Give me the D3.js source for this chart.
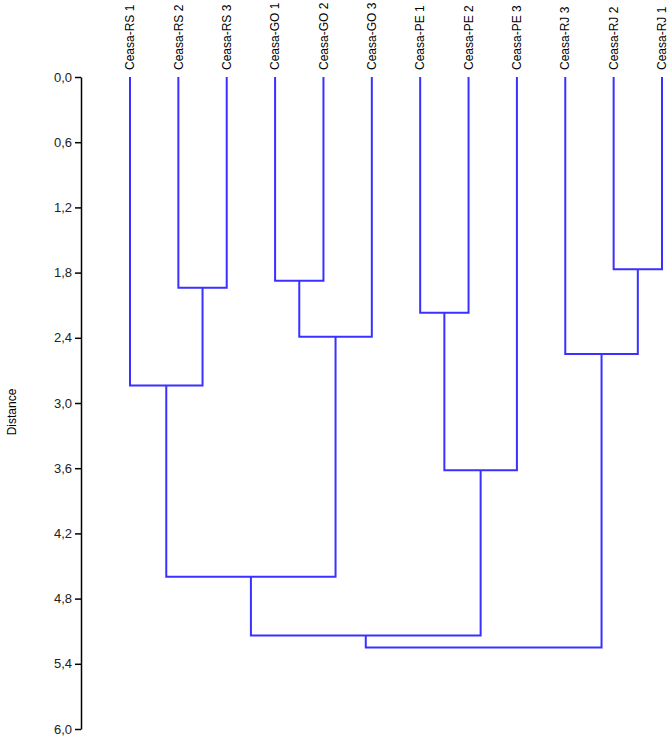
<!DOCTYPE html>
<html>
<head>
<meta charset="utf-8">
<title>Dendrogram</title>
<script src="https://d3js.org/d3.v7.min.js"></script>
<style>
  body { margin: 0; background: #fff; }
  text { font-family: "Liberation Sans", Arial, sans-serif; }
</style>
</head>
<body>
<script>
var width = 672, height = 741;

// leaf order as drawn, left to right
var leaves = ["Ceasa-RS 1", "Ceasa-RS 2", "Ceasa-RS 3", "Ceasa-GO 1", "Ceasa-GO 2", "Ceasa-GO 3",
              "Ceasa-PE 1", "Ceasa-PE 2", "Ceasa-PE 3", "Ceasa-RJ 3", "Ceasa-RJ 2", "Ceasa-RJ 1"];
// each merge joins two nodes (leaf index, or 12+ for earlier merges) at a distance
var mergeA = [1, 3, 13, 0, 6, 16, 10, 9, 15, 20, 21];
var mergeB = [2, 4, 5, 12, 7, 8, 11, 18, 14, 17, 19];
var mergeDist = [1.94, 1.875, 2.39, 2.84, 2.17, 3.62, 1.77, 2.55, 4.60, 5.14, 5.25];

var tickValues = [0, 0.6, 1.2, 1.8, 2.4, 3.0, 3.6, 4.2, 4.8, 5.4, 6.0];
var tickLabels = ["0,0", "0,6", "1,2", "1,8", "2,4", "3,0", "3,6", "4,2", "4,8", "5,4", "6,0"];

var svg = d3.select("body").append("svg").attr("width", width).attr("height", height);

var x = d3.scalePoint().domain(leaves).range([130, 662]);
var y = d3.scaleLinear().domain([0, 6]).range([77, 729]);

// node positions: leaves first, then merges
var nodes = leaves.map(function(l){ return {x: x(l), d: 0}; });
for (let i = 0; i < mergeA.length; i++) {
    var a = nodes[mergeA[i]], b = nodes[mergeB[i]];
    nodes.push({x: (a.x + b.x) / 2, d: mergeDist[i], a: a, b: b});
}

svg.append("g").selectAll("path")
    .data(nodes.filter(function(n){ return n.a; }))
    .enter().append("path")
    .attr("d", function(n){
        return "M" + n.a.x + "," + y(n.a.d) + "V" + y(n.d) + "H" + n.b.x + "V" + y(n.b.d);
    })
    .attr("fill", "none")
    .attr("stroke", "#3a30ff")
    .attr("stroke-width", 2)
    .attr("stroke-linejoin", "miter");

// leaf labels
svg.append("g").selectAll("text")
    .data(leaves)
    .enter().append("text")
    .attr("transform", function(d){ return "translate(" + x(d) + ",70) rotate(-90)"; })
    .attr("dy", "0.35em")
    .attr("text-anchor", "start")
    .attr("font-size", 12)
    .attr("fill", "#000")
    .text(function(d){ return d; });

// axis
var axis = d3.axisLeft(y)
    .tickValues(tickValues)
    .tickFormat(function(d, i){ return tickLabels[i]; })
    .tickSize(6)
    .tickSizeOuter(0);

var ga = svg.append("g").attr("transform", "translate(81,0)").call(axis);
ga.select(".domain").attr("stroke", "#000").attr("stroke-width", 1.5);
ga.selectAll(".tick line").attr("stroke", "#000").attr("stroke-width", 1.5);
ga.selectAll(".tick text").attr("font-size", 13).attr("fill", "#222")
    .attr("font-family", "Liberation Sans, Arial, sans-serif").attr("x", -9);

svg.append("text")
    .attr("transform", "translate(12,412) rotate(-90)")
    .attr("dy", "0.35em")
    .attr("text-anchor", "middle")
    .attr("font-size", 12)
    .text("Distance");
</script>
</body>
</html>
